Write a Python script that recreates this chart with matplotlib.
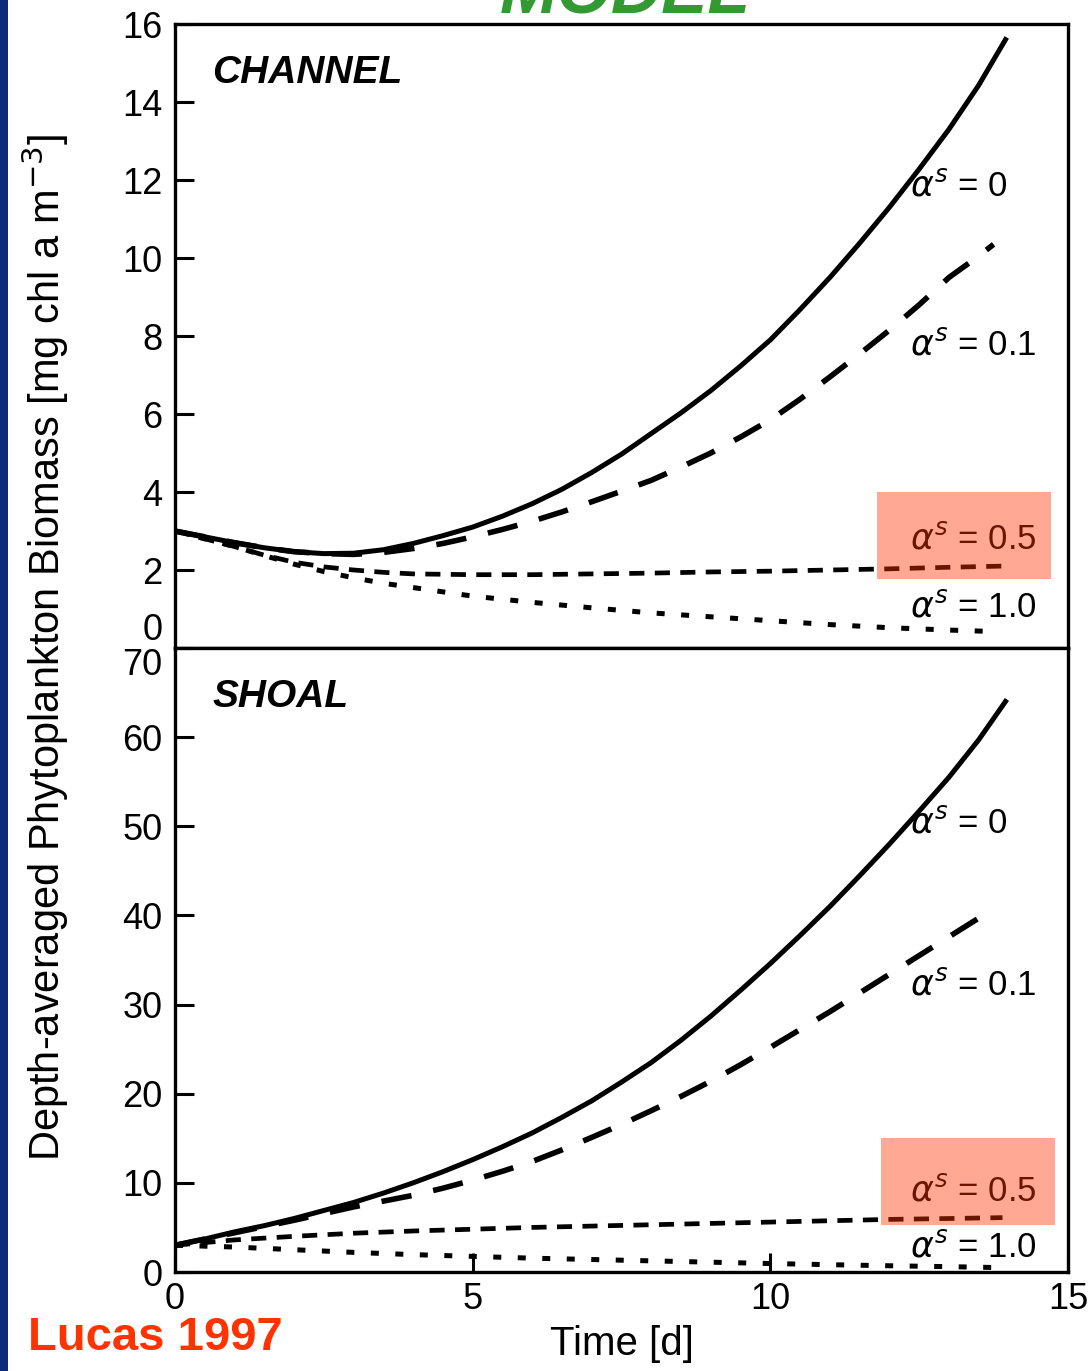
import matplotlib.pyplot as plt
from matplotlib.patches import Rectangle

# CHANNEL panel: time (d) and depth-averaged biomass for each alpha^s
ch_t0 = [0, 0.5, 1, 1.5, 2, 2.5, 3, 3.5, 4, 4.5, 5, 5.5, 6, 6.5, 7, 7.5, 8, 8.5, 9, 9.5,
         10, 10.5, 11, 11.5, 12, 12.5, 13, 13.5, 13.95]
ch_a0 = [3.0, 2.85, 2.7, 2.57, 2.47, 2.42, 2.43, 2.52, 2.68, 2.88, 3.1, 3.38, 3.7, 4.07, 4.5, 4.97,
         5.5, 6.03, 6.6, 7.23, 7.9, 8.68, 9.5, 10.38, 11.3, 12.28, 13.3, 14.43, 15.6]
ch_t01 = [0, 0.5, 1, 1.5, 2, 2.5, 3, 3.5, 4, 4.5, 5, 5.5, 6, 6.5, 7, 7.5, 8, 8.5, 9, 9.5,
          10, 10.5, 11, 11.5, 12, 12.5, 13, 13.5, 13.75]
ch_a01 = [3.0, 2.85, 2.7, 2.57, 2.47, 2.42, 2.4, 2.45, 2.55, 2.68, 2.85, 3.04, 3.25, 3.49, 3.75, 4.02,
          4.3, 4.64, 5.0, 5.41, 5.85, 6.38, 6.95, 7.54, 8.15, 8.8, 9.5, 10.05, 10.35]
ch_t05 = [0, 0.5, 1, 1.5, 2, 2.5, 3, 3.5, 4, 5, 6, 7, 8, 9, 10, 11, 12, 13, 13.9]
ch_a05 = [3.0, 2.8, 2.6, 2.38, 2.2, 2.08, 2.0, 1.94, 1.9, 1.88, 1.88, 1.9, 1.92, 1.95, 1.97, 2.0,
          2.03, 2.07, 2.1]
ch_t10 = [0, 0.5, 1, 1.5, 2, 2.5, 3, 3.5, 4, 5, 6, 7, 8, 9, 10, 11, 12, 13, 13.8]
ch_a10 = [3.0, 2.8, 2.6, 2.37, 2.15, 1.96, 1.8, 1.66, 1.55, 1.33, 1.17, 1.03, 0.9, 0.8, 0.7, 0.6,
          0.52, 0.46, 0.42]

# SHOAL panel
sh_t0 = [0, 0.5, 1, 1.5, 2, 2.5, 3, 3.5, 4, 4.5, 5, 5.5, 6, 6.5, 7, 7.5, 8, 8.5, 9, 9.5,
         10, 10.5, 11, 11.5, 12, 12.5, 13, 13.5, 13.95]
sh_a0 = [3.0, 3.7, 4.5, 5.2, 6.0, 6.9, 7.8, 8.85, 10.0, 11.25, 12.6, 14.05, 15.6, 17.35, 19.2, 21.3,
         23.5, 26.0, 28.7, 31.6, 34.6, 37.75, 41.0, 44.45, 48.0, 51.7, 55.5, 59.7, 64.0]
sh_t01 = [0, 1, 2, 2.5, 3, 3.5, 4, 4.5, 5, 5.5, 6, 6.5, 7, 7.5, 8, 8.5, 9, 9.5,
          10, 10.5, 11, 11.5, 12, 12.5, 13, 13.5, 13.75]
sh_a01 = [3.0, 4.4, 5.8, 6.55, 7.3, 7.95, 8.6, 9.4, 10.3, 11.3, 12.4, 13.7, 15.1, 16.55, 18.1, 19.7,
          21.4, 23.25, 25.2, 27.2, 29.2, 31.3, 33.4, 35.5, 37.6, 39.7, 41.1]
sh_t05 = [0, 1, 2, 3, 4, 5, 6, 7, 8, 9, 10, 11, 12, 13, 13.9]
sh_a05 = [3.0, 3.6, 4.0, 4.35, 4.6, 4.8, 5.0, 5.15, 5.3, 5.45, 5.6, 5.75, 5.9, 6.0, 6.1]
sh_t10 = [0, 1, 2, 3, 4, 5, 6, 7, 8, 9, 10, 11, 12, 13, 13.8]
sh_a10 = [3.0, 2.8, 2.5, 2.2, 1.95, 1.75, 1.55, 1.4, 1.25, 1.1, 0.95, 0.82, 0.7, 0.6, 0.5]

alpha_labels = ["0", "0.1", "0.5", "1.0"]

plt.rcParams['font.family'] = ['Liberation Sans', 'DejaVu Sans']

fig = plt.figure(figsize=(10.91, 13.71), dpi=100)
fig.patch.set_facecolor('white')

left, right = 175 / 1091, 1068 / 1091
ax1 = fig.add_axes([left, 1 - 648 / 1371, right - left, (648 - 24) / 1371])
ax2 = fig.add_axes([left, 1 - 1272 / 1371, right - left, (1272 - 648) / 1371])


def draw_panel(ax, series, ymax, ystep, title, label_y, box):
    (t0, a0), (t01, a01), (t05, a05), (t10, a10) = series
    ax.plot(t0, a0, color='black', lw=3.6)
    ax.plot(t01, a01, color='black', lw=4.0, linestyle=(0, (5.5, 4.0)))
    ax.plot(t05, a05, color='black', lw=3.4, linestyle=(0, (3.2, 2.2)))
    ax.plot(t10, a10, color='black', lw=3.6, linestyle=(0, (1.6, 3.3)))
    ax.set_xlim(0, 15)
    ax.set_ylim(0, ymax)
    ax.set_yticks(range(0, ymax + 1, ystep))
    ax.set_xticks([0, 5, 10, 15])
    ax.tick_params(direction='in', length=14, width=2.2, labelsize=26, pad=9)
    for s in ax.spines.values():
        s.set_linewidth(2.4)
    ax.text(0.042, 0.922, title, transform=ax.transAxes, fontsize=28,
            fontweight='bold', fontstyle='italic', ha='left', va='center')
    for lab, yy in zip(alpha_labels, label_y):
        ax.text(0.823, yy, r"$\alpha^{s}$" + " = " + lab, transform=ax.transAxes,
                fontsize=25, ha='left', va='center', zorder=5)
    # highlight box for alpha^s = 0.5
    bx0, bx1, by0, by1 = box
    ax.add_patch(Rectangle((bx0, by0), bx1 - bx0, by1 - by0, transform=ax.transAxes,
                           facecolor=(1, 0.2, 0), alpha=0.42, edgecolor='none', zorder=6))


draw_panel(ax1, [(ch_t0, ch_a0), (ch_t01, ch_a01), (ch_t05, ch_a05), (ch_t10, ch_a10)],
           16, 2, "CHANNEL", [0.74, 0.485, 0.175, 0.065],
           [(877 - 175) / 893, (1051 - 175) / 893, (648 - 579) / 624, (648 - 492) / 624])
draw_panel(ax2, [(sh_t0, sh_a0), (sh_t01, sh_a01), (sh_t05, sh_a05), (sh_t10, sh_a10)],
           70, 10, "SHOAL", [0.72, 0.46, 0.13, 0.04],
           [(881 - 175) / 893, (1055 - 175) / 893, (1272 - 1225) / 624, (1272 - 1138) / 624])

ax1.tick_params(axis='x', bottom=False, labelbottom=False)
ax2.tick_params(axis='x', pad=7)
ax1.yaxis.get_major_ticks()[0].label1.set_va('bottom')
ax2.yaxis.get_major_ticks()[-1].label1.set_va('top')
ax2.set_xlabel("Time [d]", fontsize=29, labelpad=6)

fig.text(45 / 1091, 1 - 648 / 1371, "Depth-averaged Phytoplankton Biomass [mg chl a m$^{-3}$]",
         rotation=90, fontsize=30, ha='center', va='center')

fig.text(28 / 1091, 1 - 1338 / 1371, "Lucas 1997", color='#ff3300', fontsize=34,
         fontweight='bold', ha='left', va='center')

# cut-off title at the top of the slide
fig.text(500 / 1091, 1 - 13 / 1371, "MODEL", color='#339933', fontsize=50,
         fontweight='bold', fontstyle='italic', ha='left', va='baseline')

# slide border strip
fig.patches.append(Rectangle((0, 0), 8 / 1091, 1, transform=fig.transFigure,
                             facecolor='#0c2a7a', edgecolor='none'))

fig.savefig("out.png", dpi=100)
